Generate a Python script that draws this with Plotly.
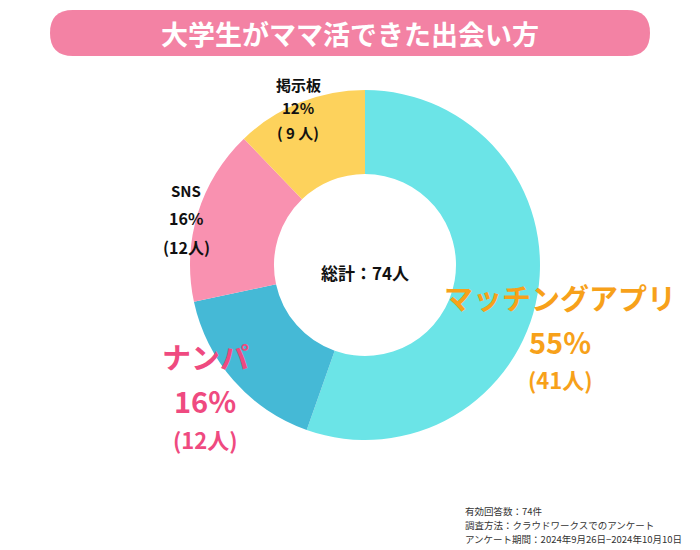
import plotly.graph_objects as go

labels = ["マッチングアプリ", "ナンパ", "SNS", "掲示板"]
values = [41, 12, 12, 9]
pcts = ["55%", "16%", "16%", "12%"]
colors = ["#6be4e7", "#45b9d6", "#f991b0", "#fdd25c"]

W, H = 692, 542
OFF = 8
def px(x): return (x - OFF) / W
def py(y): return 1 - (y - OFF) / H

fig = go.Figure(go.Pie(labels=labels, values=values, hole=0.52, sort=False,
                       direction="clockwise", rotation=0,
                       marker=dict(colors=colors, line=dict(color="white", width=0)),
                       textinfo="none", hoverinfo="label+value", showlegend=False,
                       domain=dict(x=[px(190), px(540)], y=[py(440), py(90)])))

x0, x1, y0, y1, r = 50, 650, 10, 56, 23
path = (f"M {px(x0+r)} {py(y0)} L {px(x1-r)} {py(y0)} Q {px(x1)} {py(y0)} {px(x1)} {py(y0+r)} "
        f"Q {px(x1)} {py(y1)} {px(x1-r)} {py(y1)} L {px(x0+r)} {py(y1)} "
        f"Q {px(x0)} {py(y1)} {px(x0)} {py(y0+r)} Q {px(x0)} {py(y0)} {px(x0+r)} {py(y0)} Z")
fig.add_shape(type="path", path=path, xref="paper", yref="paper",
              fillcolor="#f382a4", line=dict(width=0), layer="below")

ann = []
def A(x, y, t, size, color="#111", bold=True, xanchor="center"):
    ann.append(dict(x=px(x), y=py(y), xref="paper", yref="paper", text=f"<b>{t}</b>" if bold else t,
                    showarrow=False, font=dict(size=size, color=color), xanchor=xanchor, yanchor="middle"))

A(350, 33, "大学生がママ活できた出会い方", 27, "white")
A(365, 272, "総計：74人", 17)
A(298, 84, labels[3], 15); A(298, 108, pcts[3], 15); A(298, 132, f"( {values[3]} 人)", 15)
A(186, 190, labels[2], 15); A(186, 218, pcts[2], 16); A(186, 247, f"({values[2]}人)", 16)
orange = "#f7a11a"
A(560, 297, labels[0], 29, orange); A(560, 341, pcts[0], 29, orange); A(560, 379, f"({values[0]}人)", 22, orange)
pink = "#ef4a80"
A(205, 356, labels[1], 29, pink); A(205, 400, pcts[1], 29, pink); A(205, 439, f"({values[1]}人)", 22, pink)
A(463, 511, "有効回答数：74件", 9.5, "#333", False, "left")
A(463, 525, "調査方法：クラウドワークスでのアンケート", 9.5, "#333", False, "left")
A(463, 539, "アンケート期間：2024年9月26日−2024年10月10日", 9.5, "#333", False, "left")

fig.update_layout(width=W, height=H, margin=dict(l=0, r=0, t=0, b=0),
                  paper_bgcolor="white", plot_bgcolor="white", annotations=ann,
                  font=dict(family="Noto Sans CJK JP, Noto Sans, sans-serif"))
fig.write_html("out.html")
